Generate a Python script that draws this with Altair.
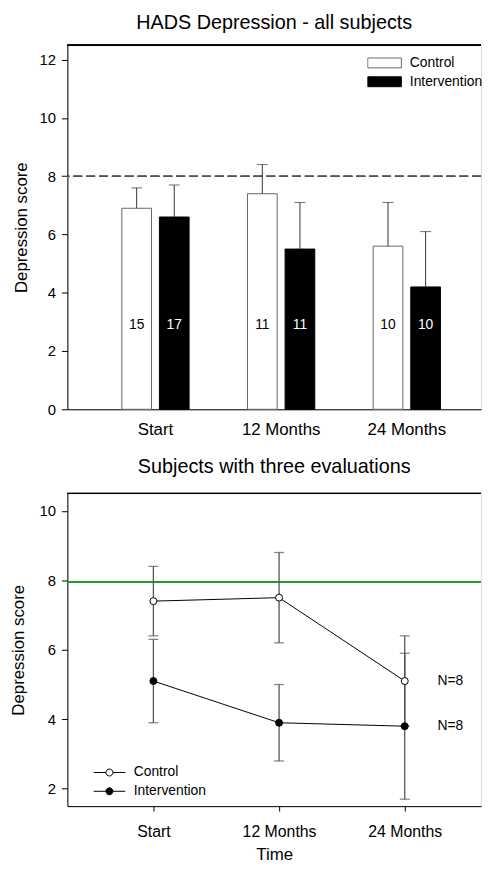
import altair as alt
import pandas as pd

times = ["Start", "12 Months", "24 Months"]
groups = ["Control", "Intervention"]

# Top panel: HADS Depression - all subjects (mean bars with upper SD)
bar_control = [6.9, 7.4, 5.6]
bar_control_hi = [7.6, 8.4, 7.1]
bar_interv = [6.6, 5.5, 4.2]
bar_interv_hi = [7.7, 7.1, 6.1]
n_control = [15, 11, 10]
n_interv = [17, 11, 10]
cutoff_top = 8

# Bottom panel: subjects with three evaluations
line_control = [7.4, 7.5, 5.1]
line_control_lo = [6.4, 6.2, 3.8]
line_control_hi = [8.4, 8.8, 6.4]
line_interv = [5.1, 3.9, 3.8]
line_interv_lo = [3.9, 2.8, 1.7]
line_interv_hi = [6.3, 5.0, 5.9]
n_label = ["N=8", "N=8"]
cutoff_bottom = 7.95

FONT = "Liberation Sans"

top_df = pd.DataFrame({
    "time": times * 2,
    "group": [groups[0]] * 3 + [groups[1]] * 3,
    "mean": bar_control + bar_interv,
    "hi": bar_control_hi + bar_interv_hi,
    "n": n_control + n_interv,
})

bot_df = pd.DataFrame({
    "time": times * 2,
    "group": [groups[0]] * 3 + [groups[1]] * 3,
    "mean": line_control + line_interv,
    "lo": line_control_lo + line_interv_lo,
    "hi": line_control_hi + line_interv_hi,
})
nlab_df = pd.DataFrame({
    "time": [times[2], times[2]],
    "group": groups,
    "mean": [line_control[2], line_interv[2]],
    "label": n_label,
})

# ---------- top chart ----------
x_top = alt.X(
    "time:N", sort=times,
    scale=alt.Scale(domain=times, paddingInner=0.4646, paddingOuter=0.378, align=0.573),
    axis=alt.Axis(title=None, ticks=False, labelAngle=0, labelFontSize=17, labelPadding=12,
                  labelColor="black", domainColor="black", labelFont=FONT),
)
xoff = alt.XOffset("group:N", sort=groups,
                   scale=alt.Scale(domain=groups, paddingInner=0.2105, paddingOuter=0))
y_top = alt.Y(
    "mean:Q",
    scale=alt.Scale(domain=[0, 12.5], nice=False),
    axis=alt.Axis(title="Depression score", values=[0, 2, 4, 6, 8, 10, 12], grid=False,
                  tickSize=6, tickColor="black", domainColor="black", labelColor="black",
                  labelFontSize=15, labelPadding=6, titleFontSize=17, titleFont=FONT,
                  labelFont=FONT, titleFontWeight="normal", titleColor="black", titlePadding=9),
)

base_top = alt.Chart(top_df)

bars = base_top.mark_bar(strokeWidth=1).encode(
    x=x_top, xOffset=xoff, y=y_top,
    fill=alt.Fill("group:N", sort=groups,
                  scale=alt.Scale(domain=groups, range=["white", "black"]),
                  legend=alt.Legend(title=None, orient="none", legendX=303, legendY=11,
                                    symbolType="M-1,-0.294H1V0.294H-1Z", symbolSize=1156,
                                    clipHeight=14,
                                    labelFontSize=14, labelFont=FONT, labelOffset=8,
                                    rowPadding=5, padding=0, labelColor="black",
                                    symbolStrokeColor="#555", symbolStrokeWidth=1,
                                    labelLimit=200)),
    stroke=alt.Stroke("group:N", sort=groups,
                      scale=alt.Scale(domain=groups, range=["#666666", "black"]), legend=None),
)

err_top = base_top.mark_rule(color="#333", strokeWidth=1).encode(
    x=x_top, xOffset=xoff, y="mean:Q", y2="hi:Q")
cap_top = base_top.mark_tick(color="#333", thickness=1, size=11, orient="horizontal").encode(
    x=x_top, xOffset=xoff, y="hi:Q")
nlabels = base_top.mark_text(fontSize=14, font=FONT).encode(
    x=x_top, xOffset=xoff, y=alt.datum(2.9), text="n:Q",
    color=alt.Color("group:N", sort=groups,
                    scale=alt.Scale(domain=groups, range=["black", "white"]), legend=None))
cut_top = alt.Chart(top_df).mark_rule(color="#555", strokeDash=[9, 4], strokeWidth=1).encode(
    y=alt.datum(cutoff_top))
border_top = alt.Chart(top_df).mark_rule(color="black", strokeWidth=1).encode(
    y=alt.datum(12.5))

top = alt.layer(cut_top, border_top, bars, err_top, cap_top, nlabels).properties(
    width=418, height=368,
    title=alt.TitleParams("HADS Depression - all subjects", fontSize=20, font=FONT,
                          fontWeight="normal", color="black", offset=12),
)

# ---------- bottom chart ----------
x_bot = alt.X(
    "time:N", sort=times,
    scale=alt.Scale(type="point", domain=times, padding=0.6457, align=0.53),
    axis=alt.Axis(title="Time", tickSize=5, tickColor="black", labelAngle=0, labelFontSize=16,
                  labelPadding=13, labelColor="black", domainColor="black", labelFont=FONT,
                  titleFont=FONT, titleFontSize=17, titleFontWeight="normal",
                  titleColor="black", titlePadding=7),
)
y_bot = alt.Y(
    "mean:Q",
    scale=alt.Scale(domain=[1.5, 10.5], nice=False, zero=False),
    axis=alt.Axis(title="Depression score", values=[2, 4, 6, 8, 10], grid=False,
                  tickSize=6, tickColor="black", domainColor="black", labelColor="black",
                  labelFontSize=15, labelPadding=6, titleFontSize=17, titleFont=FONT,
                  labelFont=FONT, titleFontWeight="normal", titleColor="black", titlePadding=12),
)

base_bot = alt.Chart(bot_df)

cut_bot = alt.Chart(bot_df).mark_rule(color="#1f9e1f", strokeWidth=1.2).encode(
    y=alt.datum(cutoff_bottom))
border_bot = alt.Chart(bot_df).mark_rule(color="black", strokeWidth=1).encode(
    y=alt.datum(10.5))
err_bot = base_bot.mark_rule(color="#555", strokeWidth=1.3).encode(
    x=x_bot, y="lo:Q", y2="hi:Q")
cap_bot = base_bot.transform_fold(["lo", "hi"], as_=["end", "val"]).mark_tick(
    color="#555", thickness=1.3, size=10, orient="horizontal").encode(
    x=x_bot, y="val:Q")
lines = base_bot.mark_line(color="black", strokeWidth=1).encode(
    x=x_bot, y=y_bot, detail="group:N")
points = base_bot.mark_point(filled=True, shape="circle", size=50, stroke="black",
                             strokeWidth=1, opacity=1).encode(
    x=x_bot, y=y_bot,
    fill=alt.Fill("group:N", sort=groups,
                  scale=alt.Scale(domain=groups, range=["white", "black"]),
                  legend=alt.Legend(title=None, orient="none", legendX=26, legendY=275,
                                    symbolType="M-1,0H-0.22M0.22,0H1M0.22,0A0.22,0.22 0 1 1 -0.22,0A0.22,0.22 0 1 1 0.22,0Z",
                                    symbolSize=1024, clipHeight=14,
                                    labelFontSize=14, labelFont=FONT,
                                    labelOffset=8, rowPadding=5, padding=0,
                                    labelColor="black", symbolStrokeColor="black",
                                    symbolStrokeWidth=1, symbolOpacity=1)),
)
nlab = alt.Chart(nlab_df).mark_text(fontSize=14, font=FONT, dx=46, color="black").encode(
    x=x_bot, y="mean:Q", text="label:N")

bottom = alt.layer(cut_bot, border_bot, err_bot, cap_bot, lines, points, nlab).properties(
    width=418, height=316,
    title=alt.TitleParams("Subjects with three evaluations", fontSize=20, font=FONT,
                          fontWeight="normal", color="black", offset=16),
)

chart = alt.vconcat(top, bottom, spacing=19).resolve_scale(
    fill="independent", stroke="independent", color="independent"
).resolve_legend(fill="independent").properties(
    padding={"left": 0, "top": 0, "right": 0, "bottom": 0}
).configure_view(stroke=None).configure(background="white")

chart.save("out.html", embed_options={"renderer": "svg", "actions": False})
